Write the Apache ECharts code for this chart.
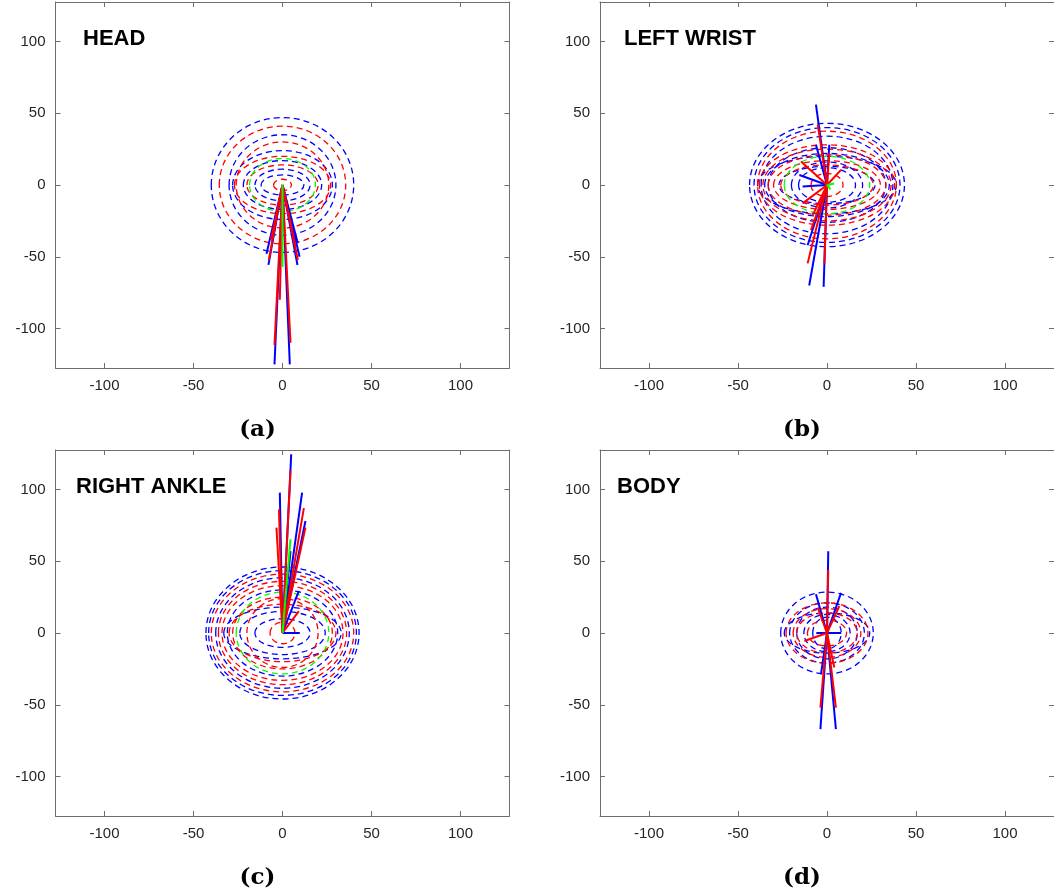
<!DOCTYPE html>
<html>
<head>
<meta charset="utf-8">
<script src="https://cdn.jsdelivr.net/npm/echarts@6/dist/echarts.min.js"></script>
<style>
  html, body { margin: 0; padding: 0; background: #fff; }
  #chart { width: 1054px; height: 896px; }
</style>
</head>
<body>
<div id="chart"></div>
<script>
const tickValues = [-100, -50, 0, 50, 100]
const axisLimit = 127.5
const panelNames = ['HEAD', 'LEFT WRIST', 'RIGHT ANKLE', 'BODY']
const panelTags = ['(a)', '(b)', '(c)', '(d)']

// dashed rings around the origin: [half width, half height]
// solid vectors from the origin: [x, y] of the tip
const headBlueRings = [[40, 47], [30, 35], [28, 24], [22, 17], [15.5, 11], [12, 7]]
const headRedRings = [[35.5, 41], [26, 30], [27, 20], [20, 14], [5, 4]]
const headGreenRings = [[18.5, 18.5]]
const headBlueVecs = [[-9, -48], [9.6, -50], [-4.5, -125], [4.1, -125], [-7.9, -55.7], [8.4, -55.7], [-5.8, -40.6], [8.6, -40.6]]
const headRedVecs = [[-7.7, -52.3], [8.6, -52.3], [-4.5, -111.5], [4.5, -110], [-6.4, -38], [7.3, -43], [-1.5, -80]]
const headGreenVecs = [[0, -57]]

const wristBlueRings = [[43.5, 43], [41, 40], [37, 34], [33, 26], [35, 22], [39, 20], [27, 13], [20, 16], [16, 12]]
const wristRedRings = [[39, 37.5], [38, 28], [36, 25], [33, 21], [30, 17], [26, 14], [9, 8]]
const wristGreenRings = [[24, 20]]
const wristBlueVecs = [[-6.2, 56], [-10, -70], [-1.9, -71], [-15.5, 7], [-13.7, -1], [-10.9, -42], [-6.2, 28], [1.3, 28]]
const wristRedVecs = [[-10.9, -54.6], [-1.5, -54.6], [-14.6, 16.3], [-5.2, 42], [-9, -31.4], [-8, -21], [1.3, 22], [-13.7, -12.8], [7.9, 10.5]]
const wristGreenVecs = [[4, 1], [2, -3]]

const ankleBlueRings = [[43, 46], [41.5, 43.5], [37.5, 38.5], [31, 30], [33, 18], [24, 15], [15.5, 10]]
const ankleRedRings = [[40, 41], [36, 36], [34, 33], [28, 25], [30, 20], [20, 24], [7, 7.5]]
const ankleGreenRings = [[26, 28.5]]
const ankleBlueVecs = [[4.9, 124.5], [-1.5, 97.8], [11, 97.8], [12.9, 78], [9.2, 29.3], [9.7, 0], [4.5, 57]]
const ankleRedVecs = [[4.5, 113], [-2, 86], [-3.4, 73.4], [12, 87], [12.9, 73.4], [9.2, 15.3], [2.6, 41]]
const ankleGreenVecs = [[4.5, 65.3]]

const bodyBlueRings = [[26, 28.5], [24, 14], [21, 21], [17, 18], [13, 13], [8, 11]]
const bodyRedRings = [[23, 21], [19, 17], [17, 14], [11, 9]]
const bodyGreenRings = []
const bodyBlueVecs = [[0.7, 57], [-3.7, -67], [5, -67], [-6.2, 27], [7.9, 28], [-6, 0], [8, 0], [-3.4, -28.8]]
const bodyRedVecs = [[0.7, 44], [-3.7, -52], [5, -52], [-5.2, 17.7], [6.9, 18.8], [-12.7, -5.6], [4.1, -24]]
const bodyGreenVecs = []

const panels = [
  { rings: [headBlueRings, headRedRings, headGreenRings], vecs: [headBlueVecs, headRedVecs, headGreenVecs] },
  { rings: [wristBlueRings, wristRedRings, wristGreenRings], vecs: [wristBlueVecs, wristRedVecs, wristGreenVecs] },
  { rings: [ankleBlueRings, ankleRedRings, ankleGreenRings], vecs: [ankleBlueVecs, ankleRedVecs, ankleGreenVecs] },
  { rings: [bodyBlueRings, bodyRedRings, bodyGreenRings], vecs: [bodyBlueVecs, bodyRedVecs, bodyGreenVecs] }
]
const colors = ['#0000ff', '#ff0000', '#00ff00']

const boxes = [
  { left: 55.5, top: 2, nameDx: 27.5 },
  { left: 600, top: 2, nameDx: 24 },
  { left: 55.5, top: 450, nameDx: 20.5 },
  { left: 600, top: 450, nameDx: 17 }
]
const boxW = 454
const boxH = 366
const axisColor = '#6e6e6e'
const labelFont = { fontFamily: 'Liberation Sans', fontSize: 15, color: '#262626' }

const ringRenderer = (color) => (params, api) => {
  const c = api.coord([0, 0])
  const e = api.coord([api.value(0), api.value(1)])
  return {
    type: 'ellipse',
    shape: { cx: c[0], cy: c[1], rx: Math.abs(e[0] - c[0]), ry: Math.abs(e[1] - c[1]) },
    style: { fill: null, stroke: color, lineWidth: 1.3, lineDash: [6, 4] }
  }
}
const vecRenderer = (color) => (params, api) => {
  const c = api.coord([0, 0])
  const e = api.coord([api.value(0), api.value(1)])
  return {
    type: 'line',
    shape: { x1: c[0], y1: c[1], x2: e[0], y2: e[1] },
    style: { stroke: color, lineWidth: 2 }
  }
}

const grid = []
const xAxis = []
const yAxis = []
const series = []
const title = []
const graphic = []

boxes.forEach((b, i) => {
  grid.push({ left: b.left, top: b.top, width: boxW, height: boxH })
  const common = {
    gridIndex: i, type: 'value', min: -axisLimit, max: axisLimit,
    splitLine: { show: false },
    axisLine: { show: true, onZero: false, lineStyle: { color: axisColor, width: 1 } },
    axisTick: { show: true, inside: true, length: 5, customValues: tickValues, lineStyle: { color: axisColor } }
  }
  xAxis.push({ ...common, position: 'bottom',
    axisLabel: { ...labelFont, margin: 10, customValues: tickValues } })
  xAxis.push({ ...common, position: 'top', axisLabel: { show: false } })
  yAxis.push({ ...common, position: 'left',
    axisLabel: { ...labelFont, margin: 10, customValues: tickValues } })
  yAxis.push({ ...common, position: 'right', axisLabel: { show: false } })

  panels[i].rings.forEach((data, k) => {
    series.push({ type: 'custom', xAxisIndex: i * 2, yAxisIndex: i * 2, silent: true,
      data: data, renderItem: ringRenderer(colors[k]) })
  })
  panels[i].vecs.forEach((data, k) => {
    series.push({ type: 'custom', xAxisIndex: i * 2, yAxisIndex: i * 2, silent: true,
      data: data, renderItem: vecRenderer(colors[k]) })
  })

  title.push({
    text: panelNames[i], left: b.left + b.nameDx, top: b.top + 26, padding: 0,
    textStyle: { fontFamily: 'Liberation Sans', fontWeight: 'bold', fontSize: 22, color: '#000' }
  })
  graphic.push({
    type: 'text', x: b.left + 202, y: b.top + 428,
    style: { text: panelTags[i], fontFamily: 'DejaVu Serif', fontWeight: 'bold', fontSize: 23,
      fill: '#000', align: 'center', verticalAlign: 'middle' }
  })
})

const chart = echarts.init(document.getElementById('chart'))
chart.setOption({
  animation: false,
  backgroundColor: '#fff',
  title, grid, xAxis, yAxis, series, graphic
})
</script>
</body>
</html>
